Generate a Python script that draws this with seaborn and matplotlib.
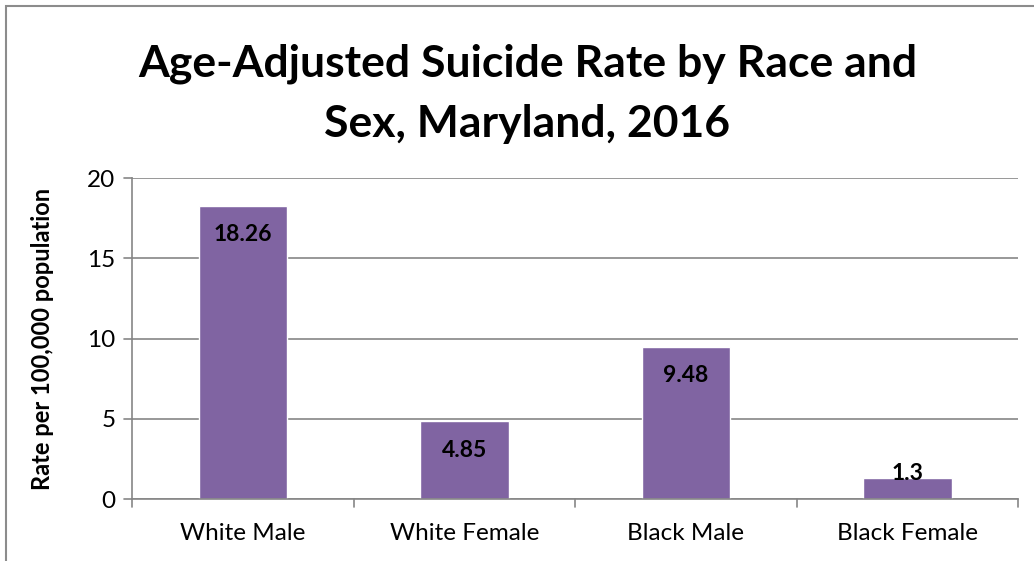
"""Age-adjusted suicide rate by race and sex, Maryland 2016."""

import matplotlib

matplotlib.use("Agg")
import matplotlib.pyplot as plt
import pandas as pd
import seaborn as sns
from matplotlib.patches import Rectangle

groups = ["White Male", "White Female", "Black Male", "Black Female"]
rates = [18.26, 4.85, 9.48, 1.3]
rate_labels = ["18.26", "4.85", "9.48", "1.3"]
y_ticks = [0, 5, 10, 15, 20]

BAR_COLOR = "#8064A2"
GRID_COLOR = "#868686"
FONT = ["Lato", "DejaVu Sans"]

df = pd.DataFrame({"group": groups, "rate": rates})

sns.set_theme(style="white")
plt.rcParams["font.family"] = FONT
plt.rcParams["text.color"] = "black"

fig = plt.figure(figsize=(10.34, 5.61), dpi=100)
ax = fig.add_axes([0.1277, 0.1105, 0.857, 0.5722])

sns.barplot(data=df, x="group", y="rate", color=BAR_COLOR, width=0.4,
            saturation=1, ax=ax)

ax.set_ylim(0, 20)
ax.set_xlim(-0.5, len(groups) - 0.5)
ax.set_yticks(y_ticks)
ax.set_yticklabels([str(t) for t in y_ticks], fontsize=17.5, color="black")
ax.set_xticks(range(len(groups)))
ax.set_xticklabels(groups, fontsize=17.5, color="black")
ax.tick_params(axis="y", length=0, pad=12)
ax.tick_params(axis="x", length=0, pad=17)

# gridlines and axes lines in Excel style
ax.yaxis.grid(True, color=GRID_COLOR, linewidth=1.2)
ax.set_axisbelow(True)
for side in ["top", "right"]:
    ax.spines[side].set_visible(False)
for side in ["left", "bottom"]:
    ax.spines[side].set_color(GRID_COLOR)
    ax.spines[side].set_linewidth(1.2)

# outward ticks on y, category boundary ticks on x
for t in y_ticks:
    ax.plot([-8 / 886, 0], [t, t], transform=ax.get_yaxis_transform(),
            color=GRID_COLOR, lw=1.2, clip_on=False)
for b in [i - 0.5 for i in range(len(groups) + 1)]:
    ax.plot([b, b], [0, -8 / 321], transform=ax.get_xaxis_transform(),
            color=GRID_COLOR, lw=1.2, clip_on=False)

ax.set_xlabel("")
ax.set_ylabel("Rate per 100,000 population", fontsize=17, fontweight="bold",
              color="black", labelpad=24)

# data labels: inside end, kept above the axis for short bars
fig.canvas.draw()
ppu = ax.get_window_extent().height / 20.0
for i, (v, lab) in enumerate(zip(rates, rate_labels)):
    y_center = max(v - 29 / ppu, 26 / ppu)
    ax.text(i, y_center, lab, ha="center", va="center", fontsize=16.5,
            fontweight="bold", color="black")

fig.suptitle("Age-Adjusted Suicide Rate by Race and\nSex, Maryland, 2016",
             x=0.51, y=0.922, fontsize=32, fontweight="bold", linespacing=1.6,
             color="black")

# chart area border (right and bottom edges fall outside the image)
fig.patches.append(Rectangle((6 / 1034, -0.1), 1.2, 1 - 6 / 561 + 0.1,
                             transform=fig.transFigure, fill=False,
                             edgecolor="#8C8C8C", linewidth=1.5))

fig.savefig("out.png", dpi=100)
